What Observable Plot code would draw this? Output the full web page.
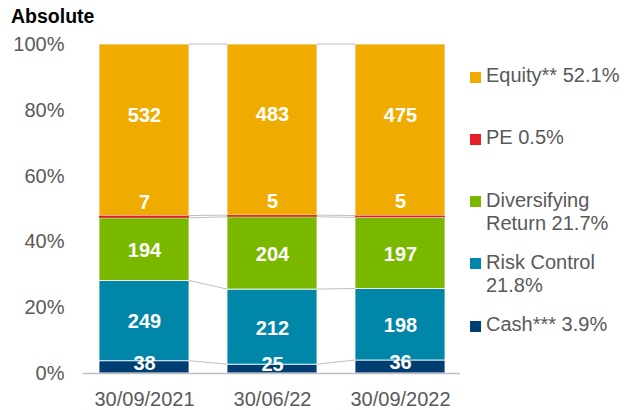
<!DOCTYPE html>
<html>
<head>
<meta charset="utf-8">
<script src="https://cdn.jsdelivr.net/npm/d3@7"></script>
<script src="https://cdn.jsdelivr.net/npm/@observablehq/plot@0.6"></script>
<style>
  body { margin: 0; background: #fff; font-family: "Liberation Sans", Arial, sans-serif; }
  #wrap { position: relative; width: 627px; height: 410px; overflow: hidden; }
  #title { position: absolute; left: 11px; top: 5px; font-weight: bold; font-size: 19.5px; color: #000; }
  #legend { position: absolute; left: 470px; top: 64px; }
  .item { height: 62.3px; display: flex; align-items: flex-start; font-size: 20px; line-height: 23px; color: #595959; white-space: nowrap; }
  .sw { width: 11px; height: 11px; margin-top: 7.5px; margin-right: 5px; flex: none; }
  #chart { position: absolute; left: 0; top: 0; }
</style>
</head>
<body>
<div id="wrap">
  <div id="chart"></div>
  <div id="title">Absolute</div>
  <div id="legend"></div>
</div>
<script>
// ---- data ----
const dates = ["30/09/2021", "30/06/22", "30/09/2022"];
const series = ["Cash", "Risk Control", "Diversifying Return", "PE", "Equity"];
const cash = [38, 25, 36];
const riskControl = [249, 212, 198];
const diversifying = [194, 204, 197];
const pe = [7, 5, 5];
const equity = [532, 483, 475];
const colors = ["#003E71", "#0086A8", "#7AB800", "#E3202A", "#F0AB00"];
const legendLabels = ["Equity** 52.1%", "PE 0.5%", "Diversifying<br>Return 21.7%", "Risk Control<br>21.8%", "Cash*** 3.9%"];
const legendColors = ["#F0AB00", "#E3202A", "#7AB800", "#0086A8", "#003E71"];
const yTicks = [0, 0.2, 0.4, 0.6, 0.8, 1];

// ---- build normalized stack ----
const valuesBySeries = [cash, riskControl, diversifying, pe, equity];
const rows = [];
dates.forEach((d, i) => {
  const total = valuesBySeries.reduce((s, arr) => s + arr[i], 0);
  let acc = 0;
  series.forEach((s, j) => {
    const v = valuesBySeries[j][i];
    const y1 = acc / total;
    acc += v;
    const y2 = acc / total;
    rows.push({date: d, series: s, value: v, y1, y2, mid: (y1 + y2) / 2, di: i, sj: j});
  });
});

const font = "Liberation Sans, Arial, sans-serif";
const labelStyle = {fill: "white", fontWeight: "bold", fontSize: 20, text: d => String(d.value)};
const plot = Plot.plot({
  width: 627,
  height: 410,
  marginTop: 44,
  marginBottom: 37,
  marginLeft: 83,
  marginRight: 167,
  style: {fontFamily: font, fontSize: "20px", color: "#595959", background: "white"},
  x: {domain: dates, label: null, paddingInner: 0.3, paddingOuter: 0.12, tickSize: 0, tickPadding: 18},
  y: {domain: [0, 1], ticks: yTicks, tickFormat: d3.format(".0%"), label: null, tickSize: 0, tickPadding: 19},
  color: {domain: series, range: colors},
  marks: [
    Plot.barY(rows.filter(r => r.series !== "PE"), {x: "date", y1: "y1", y2: "y2", fill: "series", stroke: "white", strokeWidth: 0.8}),
    Plot.barY(rows.filter(r => r.series === "PE"), {x: "date", y1: "y1", y2: "y2", fill: "series"}),
    Plot.ruleY([0], {stroke: "#BFBFBF", strokeWidth: 1.3}),
    Plot.text(rows.filter(r => r.series === "Risk Control" || r.series === "Diversifying Return"), {
      x: "date", y: "mid", ...labelStyle, dy: 1
    }),
    Plot.text(rows.filter(r => r.series === "Cash"), {
      x: "date", y: "mid", ...labelStyle, dy: -4
    }),
    Plot.text(rows.filter(r => r.series === "Equity"), {
      x: "date", y: "mid", ...labelStyle, dy: -15
    }),
    Plot.text(rows.filter(r => r.series === "PE"), {
      x: "date", y: "y2", ...labelStyle, dy: -14
    })
  ]
});
document.getElementById("chart").appendChild(plot);

// ---- connector lines between bars, from the plot's own scales ----
const sx = plot.scale("x");
const sy = plot.scale("y");
const svg = d3.select(plot);
const bw = sx.bandwidth;
const boundaries = [];
for (let i = 0; i < dates.length - 1; i++) {
  const a = rows.filter(r => r.di === i), b = rows.filter(r => r.di === i + 1);
  for (let j = 0; j < series.length; j++) {
    boundaries.push({x1: sx.apply(dates[i]) + bw, x2: sx.apply(dates[i + 1]), ya: sy.apply(a[j].y2), yb: sy.apply(b[j].y2)});
  }
}
svg.append("g").selectAll("line").data(boundaries).join("line")
  .attr("x1", d => d.x1).attr("x2", d => d.x2)
  .attr("y1", d => d.ya).attr("y2", d => d.yb)
  .attr("stroke", "#BFBFBF").attr("stroke-width", 1);

// ---- legend ----
const legend = d3.select("#legend");
legendLabels.forEach((l, i) => {
  const it = legend.append("div").attr("class", "item");
  it.append("div").attr("class", "sw").style("background", legendColors[i]);
  it.append("div").html(l);
});
</script>
</body>
</html>
